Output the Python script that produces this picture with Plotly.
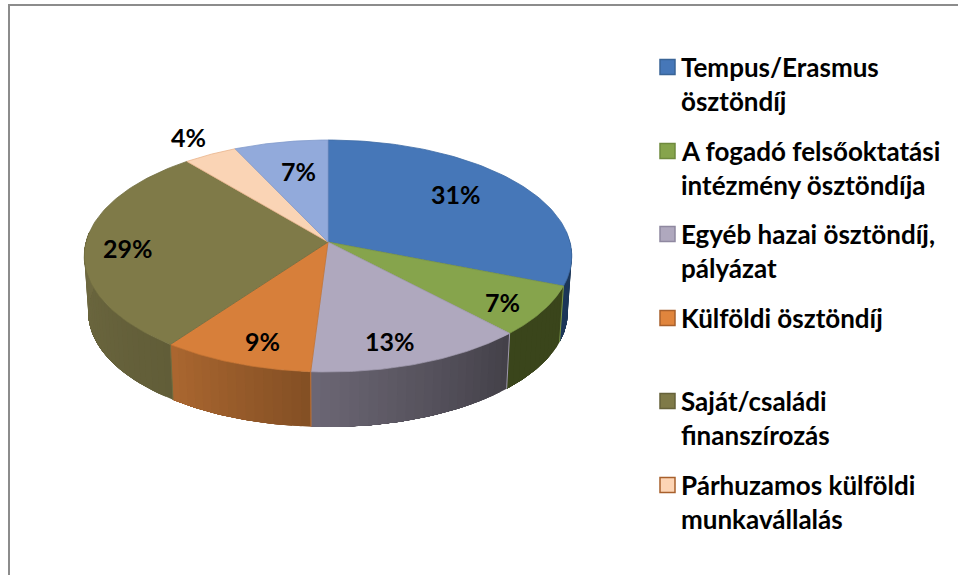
"""3D style pie of funding sources, drawn with filled scatter polygons."""
import numpy as np
import plotly.graph_objects as go

names = [
    "Tempus/Erasmus<br>ösztöndíj",
    "A fogadó felsőoktatási<br>intézmény ösztöndíja",
    "Egyéb hazai ösztöndíj,<br>pályázat",
    "Külföldi ösztöndíj",
    "Saját/családi<br>finanszírozás",
    "Párhuzamos külföldi<br>munkavállalás",
]
values = [31, 7, 13, 9, 29, 4, 7]

top_colors = ["#4677b8", "#86a44c", "#afa8be", "#d77f3a", "#7f7a48", "#fad4b5", "#92aadb"]
edge_colors = ["#3f6ca6", "#7a9645", "#9f99ad", "#c47334", "#716d40", "#e8b48c", "#829bcb"]
side_left = ["#1c3658", "#3a451b", "#6c6775", "#ab6730", "#6f6a41", "#6f6a41", "#6f6a41"]
side_right = ["#1c3658", "#3a451b", "#434048", "#834f24", "#615d38", "#6f6a41", "#6f6a41"]
legend_colors = ["#4677b8", "#86a44c", "#afa8be", "#e0853d", "#7f7a48", "#fdd5b5"]
legend_borders = ["#3a6496", "#6f8a3e", "#8f88a0", "#a8602c", "#66623a", "#a8602c"]

# projection of the pie disc
CX, CY, A, B, P = 328, 242, 242, 114.3, 0.1207
CY_LOW, A_LOW, B_LOW = 298.5, 238, 113

LABEL_POS = [(456, 194), (502, 302), (390, 341), (262, 341), (128, 248), (188, 137), (298, 171)]
LEGEND_Y = [67, 151, 234, 318, 401, 485]
LINE_GAP = 34


def top_rim(theta):
    u, v = np.sin(theta), np.cos(theta)
    d = 1 + P * v
    return CX + A * u / d, CY - B * v / d


def low_rim(theta):
    u, v = np.sin(theta), np.cos(theta)
    d = 1 + P * v
    return CX + A_LOW * u / d, CY_LOW - B_LOW * v / d


def mix(c1, c2, t):
    a = [int(c1[i:i + 2], 16) for i in (1, 3, 5)]
    b = [int(c2[i:i + 2], 16) for i in (1, 3, 5)]
    return "rgb({},{},{})".format(*[round(x + (y - x) * t) for x, y in zip(a, b)])


fig = go.Figure()

bounds = np.radians(np.cumsum([0] + values) * 3.6)
vis_start, vis_end = np.radians(85), np.radians(275)

# outer wall, each strip runs on to the slice end and the next one paints over it
for i in range(len(values)):
    start, end = max(bounds[i], vis_start), min(bounds[i + 1], vis_end)
    if end <= start:
        continue
    steps = max(2, int(np.degrees(end - start) / 2))
    edges = np.linspace(start, end, steps + 1)
    for k in range(steps):
        th = np.linspace(edges[k], end, 40)
        x1, y1 = top_rim(th)
        x2, y2 = low_rim(th)
        col = mix(side_left[i], side_right[i], 1 - (k + 0.5) / steps)
        fig.add_trace(go.Scatter(
            x=np.r_[x1, x2[::-1], x1[0]], y=np.r_[y1, y2[::-1], y1[0]],
            mode="lines", fill="toself", fillcolor=col,
            line=dict(width=0), hoverinfo="skip",
        ))
    x1, y1 = top_rim(np.array([start]))
    x2, y2 = low_rim(np.array([start]))
    fig.add_trace(go.Scatter(
        x=[x1[0], x2[0]], y=[y1[0], y2[0]], mode="lines",
        line=dict(color=edge_colors[i], width=1), hoverinfo="skip",
    ))

# top face
for i in range(len(values)):
    th = np.linspace(bounds[i], bounds[i + 1], 80)
    x, y = top_rim(th)
    fig.add_trace(go.Scatter(
        x=np.r_[CX, x, CX], y=np.r_[CY, y, CY],
        mode="lines", fill="toself", fillcolor=top_colors[i],
        line=dict(color=edge_colors[i], width=0.8), hoverinfo="skip",
    ))

# frame of the picture
fig.add_trace(go.Scatter(
    x=[9, 9, 958], y=[575, 5, 5], mode="lines",
    line=dict(color="#8c8c8c", width=2), hoverinfo="skip",
))

# legend swatches
fig.add_trace(go.Scatter(
    x=[667.5] * len(LEGEND_Y), y=LEGEND_Y, mode="markers",
    marker=dict(symbol="square", size=15, color=legend_colors,
                line=dict(color=legend_borders, width=1.5)),
    hoverinfo="skip",
))

label_font = dict(family="Lato", size=25, color="#000000", weight=700)
legend_font = dict(family="Lato", size=26, color="#000000", weight=700)

for val, (lx, ly) in zip(values, LABEL_POS):
    fig.add_annotation(x=lx, y=ly, text=f"{val}%", showarrow=False, font=label_font,
                       xanchor="center", yanchor="middle")

for name, ly in zip(names, LEGEND_Y):
    for n, line in enumerate(name.split("<br>")):
        fig.add_annotation(x=679, y=ly + n * LINE_GAP, text=line, showarrow=False, font=legend_font,
                           xanchor="left", yanchor="middle")

fig.update_layout(
    width=958,
    height=575,
    margin=dict(l=0, r=0, t=0, b=0),
    paper_bgcolor="white",
    plot_bgcolor="white",
    showlegend=False,
    xaxis=dict(range=[0, 958], visible=False, fixedrange=True),
    yaxis=dict(range=[575, 0], visible=False, fixedrange=True),
)

fig.write_html(
    "out.html",
    config=dict(displayModeBar=False),
    post_script="document.body.style.margin='0';document.body.style.overflow='hidden';",
)
